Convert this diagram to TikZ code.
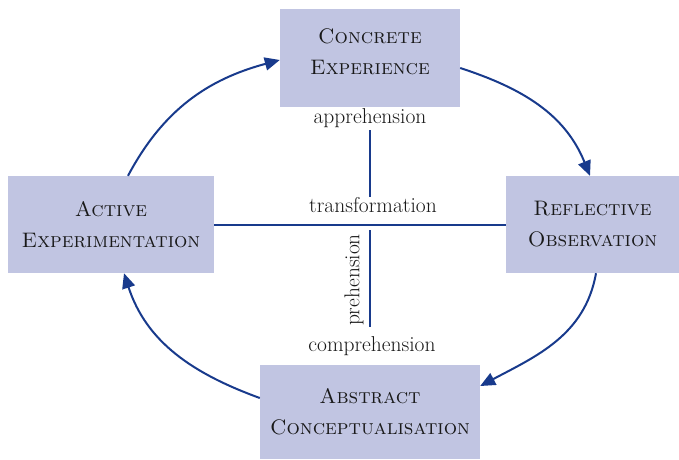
\documentclass[tikz,border=0pt]{standalone}
\usetikzlibrary{arrows.meta}
\definecolor{boxfill}{RGB}{193,197,226}
\definecolor{lineblue}{RGB}{24,58,140}
\definecolor{txt}{RGB}{25,25,25}
\begin{document}
\begin{tikzpicture}[x=1pt,y=1pt,
  stagetext/.style={inner sep=0pt, align=center, text=txt,
    font=\fontsize{21}{31}\selectfont\scshape},
  stage/.style={fill=boxfill, draw=none, stagetext},
  lbl/.style={text=txt, inner sep=0pt, font=\fontsize{21.5}{24}\selectfont},
  cyc/.style={draw=lineblue, line width=2pt, -{Triangle[length=15pt,width=13pt]}},
  axis/.style={draw=lineblue, line width=2pt}]
\useasboundingbox (0,0) rectangle (679,-459);
\node[stage, minimum width=180pt, minimum height=98pt,
  label={[stagetext, yshift=6pt]center:Concrete\\Experience}] (ce) at (370,-58) {};
\node[stage, minimum width=173pt, minimum height=97pt] (ro) at (592.5,-224.5) {Reflective\\Observation};
\node[stage, minimum width=206pt, minimum height=97pt] (ae) at (111,-224.5) {Active\\Experimentation};
\node[stage, minimum width=220pt, minimum height=94pt] (ac) at (370,-412) {Abstract\\Conceptualisation};
\node[lbl] (app) at (370,-118) {apprehension};
\node[lbl] (tra) at (373,-205) {transformation};
\node[lbl, rotate=90] (pre) at (354,-280) {prehension};
\node[lbl] (com) at (372,-346) {comprehension};
\coordinate (v1) at (370,-130);
\coordinate (v2) at (370,-197);
\coordinate (v3) at (370,-230);
\coordinate (v4) at (370,-327);
\draw[axis] (ae.east) -- (ro.west);
\draw[axis] (v1) -- (v2);
\draw[axis] (v3) -- (v4);
\draw[cyc] (ae.north -| 128,0) to[out=62, in=195] (ce.west |- 0,-60);
\draw[cyc] (ce.east |- 0,-68) to[out=-18, in=112] (ro.north -| 590,0);
\draw[cyc] (ro.south -| 596,0) to[out=-100, in=28] (ac.east |- 0,-386);
\draw[cyc] (ac.west |- 0,-398) to[out=160, in=-72] (ae.south -| 124,0);
\end{tikzpicture}
\end{document}
